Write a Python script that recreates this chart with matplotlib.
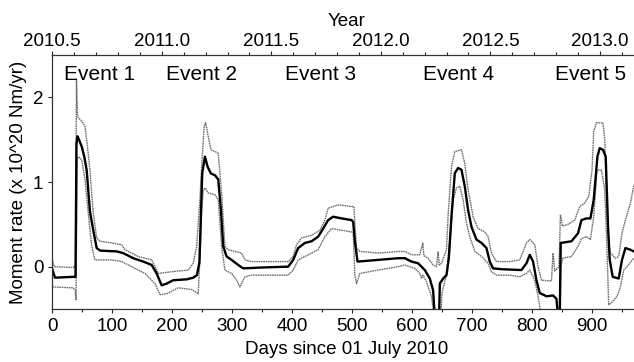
import matplotlib
matplotlib.use("Agg")
import matplotlib.pyplot as plt
from matplotlib.ticker import MultipleLocator, FormatStrFormatter

plt.rcParams['font.family'] = ['Liberation Sans', 'DejaVu Sans']

# ---- data (days since 01 July 2010, moment rate x10^20 Nm/yr) ----
center_days = [0, 4.5, 35, 38.7, 40.3, 42, 43.3, 49, 53.3, 57.3, 62.8, 68.3, 74, 79.5, 107.3, 118.3,
               135, 151.7, 165.7, 174, 182.3, 190.7, 201.7, 224, 235, 241.2, 245.3, 247.8, 250, 254.5,
               259, 264.5, 271.2, 276.7, 281.2, 285, 290.7, 299, 310, 318.3, 349, 393.3, 401.7, 410,
               421.2, 432.3, 443.3, 451.7, 460, 468.3, 482.3, 499, 501.7, 504.5, 509, 543.3, 576.7,
               587.8, 599, 610, 621.2, 629.5, 635, 637.8, 645, 646.2, 651.7, 657.3, 661.2, 665.7,
               671.2, 676.7, 682.3, 687.8, 693.3, 699, 707.3, 715.7, 724, 729.5, 735, 749, 782.3,
               790.7, 796.2, 801.7, 807.3, 812.8, 824, 835, 840.7, 843.3, 846.2, 847.8, 865.7, 876.7,
               882.3, 890.7, 897.3, 902.8, 909, 912.8, 918.3, 922.8, 926.7, 929.5, 934.5, 944.5, 950,
               955.7, 964, 969.5, 979.5]
center_vals = [-0.03, -0.13, -0.12, -0.12, 1.45, 1.54, 1.52, 1.42, 1.30, 1.14, 0.65, 0.43, 0.22, 0.19,
               0.18, 0.16, 0.10, 0.06, 0.02, -0.08, -0.22, -0.20, -0.16, -0.15, -0.13, -0.10, 0.05,
               0.60, 1.10, 1.30, 1.18, 1.10, 1.08, 1.03, 0.67, 0.24, 0.12, 0.08, 0.02, -0.02, -0.01,
               0.0, 0.08, 0.22, 0.28, 0.30, 0.355, 0.45, 0.55, 0.59, 0.57, 0.55, 0.53, 0.30, 0.06,
               0.08, 0.10, 0.10, 0.06, 0.04, -0.04, -0.14, -0.28, -0.6, -0.6, -0.2, -0.14, -0.10,
               0.10, 0.60, 1.105, 1.165, 1.145, 0.95, 0.67, 0.47, 0.32, 0.28, 0.22, 0.06, -0.02,
               -0.03, -0.04, 0.04, 0.14, 0.06, -0.16, -0.31, -0.35, -0.34, -0.38, -0.6, -0.6, 0.28,
               0.30, 0.395, 0.55, 0.57, 0.57, 0.79, 1.30, 1.40, 1.38, 1.30, 0.47, 0.08, -0.12, -0.14,
               0.08, 0.22, 0.20, 0.18, 0.17]

upper_days = [0, 3, 35, 38.7, 40.3, 42, 43.3, 49, 54.5, 57.3, 62.8, 68.3, 74, 79.5, 99, 115.7, 121.2,
              143.3, 165.7, 176.7, 199, 226.7, 235, 240.7, 243.3, 246.2, 249, 253.3, 255.7, 260, 264.5,
              271.2, 276.7, 282.3, 287.8, 293.3, 315.7, 321.2, 332.3, 393.3, 401.7, 407.3, 415.7,
              432.3, 446.2, 454.5, 460, 476.7, 499, 502.8, 507.3, 512.8, 543.3, 576.7, 587.8, 599,
              612.8, 617.8, 619.5, 626.7, 635, 640.7, 643.3, 645.3, 649, 657.3, 660, 662.8, 665.7,
              671.2, 682.3, 687.8, 693.3, 701.7, 710, 721.2, 726.7, 732.3, 740.7, 762.8, 779.5,
              790.7, 796.2, 804.5, 810, 815.7, 832.3, 835, 837.8, 845, 847.3, 850.7, 860, 871.2,
              879.5, 887.8, 894.5, 900, 902.8, 907.3, 918.3, 921.2, 924.5, 927.8, 930.7, 939, 944.5,
              950, 955.7, 964, 969.5, 979.5]
upper_vals = [0.08, 0.0, -0.01, 0.02, 2.2, 1.8, 1.76, 1.72, 1.66, 1.5, 1.14, 0.63, 0.34, 0.30, 0.28,
              0.26, 0.20, 0.12, 0.08, -0.08, -0.06, -0.04, 0.04, 0.24, 0.50, 0.80, 1.18, 1.66, 1.70,
              1.54, 1.38, 1.36, 1.34, 0.87, 0.24, 0.20, 0.16, 0.08, 0.06, 0.06, 0.12, 0.26, 0.34,
              0.37, 0.43, 0.55, 0.69, 0.73, 0.71, 0.71, 0.22, 0.18, 0.16, 0.18, 0.18, 0.14, 0.14,
              0.28, 0.13, 0.10, 0.02, 0.00, 0.18, 0.02, 0.04, 0.20, 0.60, 0.90, 1.18, 1.36, 1.38,
              1.22, 0.91, 0.59, 0.45, 0.41, 0.355, 0.16, 0.06, 0.06, 0.08, 0.28, 0.32, 0.26, 0.00,
              -0.16, -0.17, 0.16, -0.05, 0.00, 0.615, 0.48, 0.50, 0.55, 0.71, 0.75, 0.83, 1.14,
              1.60, 1.70, 1.70, 1.50, 0.80, 0.30, 0.16, 0.10, 0.12, 0.40, 0.55, 0.75, 0.95, 1.10]

lower_days = [0, 35, 38.3, 39.5, 41.2, 41.7, 43.3, 49, 54.5, 60, 65.7, 71.2, 99, 115.7, 126.7, 154.5,
              171.2, 179.5, 190.7, 210, 232.3, 243.3, 246.2, 249, 251.7, 254.5, 260, 271.2, 276.7,
              282.3, 287.8, 299, 307.3, 312.8, 321.2, 332.3, 393.3, 401.7, 410, 426.7, 443.3, 454.5,
              465.7, 482.3, 499, 501.7, 504.5, 507.3, 512.8, 543.3, 576.7, 587.8, 604.5, 612.8,
              615.7, 617.8, 624, 632.3, 636.7, 647.8, 650, 657.3, 662.8, 668.3, 674, 679.5, 685,
              690.7, 696.2, 704.5, 715.7, 726.7, 732.3, 740.7, 762.8, 779.5, 790.7, 796.2, 804.5,
              810, 815.7, 846.7, 847.8, 851.2, 865.7, 876.7, 882.3, 890.7, 897.3, 902.8, 908.3,
              915.7, 921.2, 924.5, 927.8, 933.3, 941.7, 947.3, 952.8, 958.3, 964, 969.5, 979.5]
lower_vals = [-0.24, -0.25, -0.28, -0.39, 1.00, 1.26, 1.30, 1.26, 1.03, 0.63, 0.24, 0.08, 0.08, 0.06,
              0.02, -0.08, -0.20, -0.33, -0.32, -0.25, -0.27, -0.32, 0.10, 0.67, 0.90, 0.93, 0.87,
              0.85, 0.79, 0.24, -0.04, -0.08, -0.16, -0.24, -0.12, -0.10, -0.10, -0.04, 0.08, 0.14,
              0.20, 0.355, 0.45, 0.43, 0.41, 0.41, -0.10, -0.20, -0.08, -0.04, 0.00, 0.02, -0.02,
              -0.08, -0.14, -0.10, -0.18, -0.35, -0.6, -0.6, -0.30, -0.10, 0.30, 0.79, 0.93, 0.95,
              0.79, 0.51, 0.355, 0.18, 0.12, 0.04, -0.06, -0.10, -0.10, -0.12, -0.08, -0.04, -0.16,
              -0.35, -0.6, -0.6, 0.00, 0.10, 0.12, 0.24, 0.33, 0.355, 0.32, 0.59, 1.14, 1.14, 0.90,
              0.30, -0.45, -0.42, -0.35, -0.24, -0.04, 0.00, 0.05, 0.10, 0.12]

event_labels = ["Event 1", "Event 2", "Event 3", "Event 4", "Event 5"]
event_days = [78, 249.5, 447.5, 678, 898]

# ---- figure ----
fig = plt.figure(figsize=(6.34, 3.62), dpi=100)
ax = fig.add_axes([52.3 / 634, (362 - 309) / 362, (640 - 52.3) / 634, (309 - 55) / 362])

band_color = '#6e6e6e'
ax.plot(upper_days, upper_vals, color=band_color, lw=1.0, ls=(0, (1.2, 0.5)))
ax.plot(lower_days, lower_vals, color=band_color, lw=1.0, ls=(0, (1.2, 0.5)))
ax.plot(center_days, center_vals, color='black', lw=1.7)

ax.set_xlim(0, 980)
ax.set_ylim(-0.5, 2.5)

for lab, d in zip(event_labels, event_days):
    ax.text(d, 2.21, lab, ha='center', va='baseline', fontsize=15)

ax.xaxis.set_major_locator(MultipleLocator(100))
ax.xaxis.set_minor_locator(MultipleLocator(50))
ax.yaxis.set_major_locator(MultipleLocator(1))
ax.tick_params(axis='both', which='major', direction='out', length=3, width=0.8,
               labelsize=13.5, pad=3.5, colors='#222222', labelcolor='black')
ax.tick_params(axis='x', which='minor', direction='out', length=2, width=0.8, colors='#222222')

for side in ['left', 'bottom', 'top']:
    ax.spines[side].set_linewidth(0.9)
    ax.spines[side].set_color('#333333')
ax.spines['right'].set_visible(False)

ax.set_xlabel('Days since 01 July 2010', fontsize=13.5, labelpad=4)
ax.set_ylabel('Moment rate (x 10^20 Nm/yr)', fontsize=13.5, labelpad=4)


def d2y(d):
    return 2010.5 + d / 365.25


def y2d(y):
    return (y - 2010.5) * 365.25


sec = ax.secondary_xaxis('top', functions=(d2y, y2d))
sec.xaxis.set_major_locator(MultipleLocator(0.5))
sec.xaxis.set_minor_locator(MultipleLocator(0.1))
sec.xaxis.set_major_formatter(FormatStrFormatter('%.1f'))
sec.tick_params(axis='x', which='major', direction='out', length=3, width=0.8,
                labelsize=13.5, pad=0.5, colors='#222222', labelcolor='black')
sec.tick_params(axis='x', which='minor', direction='out', length=2, width=0.8, colors='#222222')
sec.spines['top'].set_visible(False)
sec.set_xlabel('Year', fontsize=13.5, labelpad=5)

fig.savefig('out.png', dpi=100)
